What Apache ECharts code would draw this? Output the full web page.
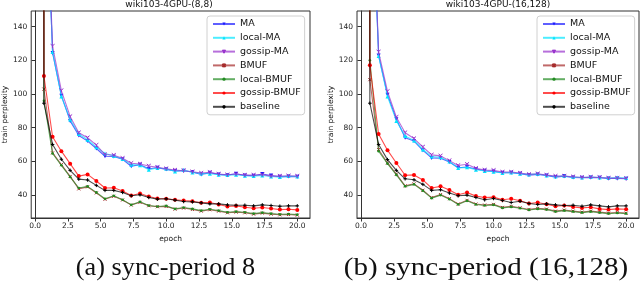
<!DOCTYPE html>
<html>
<head>
<meta charset="utf-8">
<script src="https://cdn.jsdelivr.net/npm/echarts@6/dist/echarts.min.js"></script>
<style>html,body{margin:0;padding:0;background:#fff}#c{width:640px;height:288px}</style>
</head>
<body>
<div id="c"></div>
<script>
const epochs = [0.6, 0.67, 1.33, 2.0, 2.67, 3.33, 4.0, 4.67, 5.33, 6.0, 6.67, 7.33, 8.0, 8.67, 9.33, 10.0, 10.67, 11.33, 12.0, 12.67, 13.33, 14.0, 14.67, 15.33, 16.0, 16.67, 17.33, 18.0, 18.67, 19.33, 20.0];
const seriesNames = ['MA', 'local-MA', 'gossip-MA', 'BMUF', 'local-BMUF', 'gossip-BMUF', 'baseline'];
const xTicks = [0, 2.5, 5, 7.5, 10, 12.5, 15, 17.5, 20];
const yTicks = [40, 60, 80, 100, 120, 140];
const titles = ['wiki103-4GPU-(8,8)', 'wiki103-4GPU-(16,128)'];
const captions = ['(a) sync-period 8', '(b) sync-period (16,128)'];

// chart (a)
const a_MA        = [null, 258, 124.4, 99.0, 84.0, 75.3, 72.0, 67.6, 63.0, 62.8, 61.2, 57.0, 58.0, 55.6, 56.2, 55.2, 54.2, 54.4, 53.6, 52.2, 53.2, 52.2, 51.8, 52.6, 51.6, 51.4, 52.4, 51.6, 50.8, 51.0, 50.8];
const a_localMA   = [null, 256, 125.0, 98.5, 84.8, 76.2, 72.8, 68.4, 64.6, 63.2, 61.4, 58.0, 57.6, 55.0, 56.0, 55.6, 54.0, 54.8, 53.4, 52.8, 52.6, 52.0, 51.8, 52.0, 51.4, 51.2, 51.6, 51.0, 50.6, 51.2, 51.0];
const a_gossipMA  = [null, 262, 128.4, 102.0, 86.6, 77.0, 74.0, 69.6, 64.0, 63.6, 61.8, 58.8, 58.4, 57.2, 56.4, 55.6, 54.8, 54.4, 53.8, 53.0, 53.4, 52.4, 52.0, 52.4, 51.8, 51.8, 52.0, 51.2, 51.2, 51.4, 51.2];
const a_BMUF      = [1500, 102.9, 65.0, 58.0, 51.0, 43.6, 44.8, 41.2, 37.4, 39.2, 37.0, 34.0, 35.6, 33.6, 33.0, 33.2, 31.6, 32.2, 31.4, 30.4, 31.2, 30.4, 29.4, 29.8, 29.4, 28.6, 29.2, 28.6, 28.2, 28.4, 28.0];
const a_localBMUF = [1500, 96.0, 64.6, 57.6, 50.7, 44.1, 45.1, 41.5, 37.7, 39.5, 37.1, 34.1, 35.9, 33.7, 33.1, 33.5, 31.7, 32.5, 31.7, 30.7, 31.5, 30.7, 29.7, 30.1, 29.7, 28.9, 29.5, 28.9, 28.5, 28.7, 28.3];
const a_gossipBMUF= [1500, 110.7, 74.6, 66.0, 58.6, 51.2, 52.2, 48.3, 44.1, 44.3, 42.3, 39.7, 40.9, 39.1, 37.9, 37.7, 37.1, 36.7, 36.3, 35.3, 35.5, 34.3, 33.1, 33.5, 32.7, 32.1, 32.5, 31.9, 31.3, 31.5, 31.1];
const a_baseline  = [1500, 94.5, 70.0, 61.2, 54.6, 49.4, 48.9, 45.7, 42.7, 42.7, 41.5, 39.5, 40.1, 38.5, 37.5, 37.7, 36.9, 36.1, 35.9, 35.3, 34.7, 34.7, 34.1, 33.9, 33.9, 33.5, 34.1, 33.7, 33.3, 33.5, 33.5];

// chart (b)
const b_MA        = [null, 258, 122.8, 99.5, 85.0, 74.0, 72.0, 66.5, 62.0, 61.8, 59.6, 56.2, 56.6, 55.4, 54.4, 54.0, 53.2, 53.2, 52.6, 51.8, 52.2, 51.6, 50.6, 51.2, 50.4, 50.2, 50.4, 50.2, 49.8, 49.8, 49.6];
const b_localMA   = [null, 256, 122.5, 98.5, 84.0, 75.0, 72.4, 67.0, 62.8, 62.4, 59.8, 56.0, 56.4, 55.0, 54.2, 53.8, 53.0, 53.4, 52.6, 52.2, 52.4, 51.6, 51.0, 51.2, 50.6, 50.4, 50.6, 50.4, 50.0, 50.4, 50.0];
const b_gossipMA  = [null, 262, 125.0, 101.5, 86.2, 77.0, 73.5, 68.5, 63.8, 63.2, 60.4, 57.5, 58.2, 55.8, 54.8, 54.6, 53.6, 53.6, 53.0, 52.2, 52.6, 51.8, 51.2, 51.2, 50.8, 50.4, 50.6, 50.4, 50.0, 50.0, 49.8];
const b_BMUF      = [1500, 108.5, 67.0, 59.0, 52.4, 45.4, 46.6, 42.8, 38.4, 40.2, 37.8, 34.6, 36.8, 34.6, 34.0, 34.4, 32.6, 33.2, 32.4, 31.4, 32.0, 31.6, 30.4, 31.0, 30.4, 29.8, 30.4, 29.8, 29.2, 29.6, 29.2];
const b_localBMUF = [1500, 120.0, 66.0, 58.6, 51.9, 45.1, 46.3, 42.5, 38.1, 39.9, 37.5, 34.3, 36.5, 34.3, 33.7, 34.1, 32.3, 32.9, 32.1, 31.1, 31.7, 31.3, 30.1, 30.7, 30.1, 29.5, 30.1, 29.5, 28.9, 29.3, 28.9];
const b_gossipBMUF= [1500, 117.0, 76.2, 66.6, 59.0, 51.7, 51.9, 48.9, 44.1, 45.1, 42.9, 40.1, 41.5, 39.3, 38.5, 38.7, 37.1, 37.7, 36.5, 34.9, 35.5, 34.5, 33.3, 33.7, 32.9, 32.3, 32.7, 31.7, 31.3, 31.7, 31.5];
const b_baseline  = [1500, 94.5, 70.0, 61.0, 54.6, 49.6, 49.0, 46.3, 42.7, 43.1, 41.1, 39.5, 39.9, 38.5, 37.1, 37.9, 36.7, 35.5, 36.3, 34.9, 34.3, 34.7, 34.1, 33.7, 33.9, 33.3, 34.1, 33.5, 32.9, 33.5, 33.5];

const dataA = [a_MA, a_localMA, a_gossipMA, a_BMUF, a_localBMUF, a_gossipBMUF, a_baseline];
const dataB = [b_MA, b_localMA, b_gossipMA, b_BMUF, b_localBMUF, b_gossipBMUF, b_baseline];

const styles = [
  {color: '#1a1aff', symbol: 'triangle', rotate: 180, size: 4, stroke: false},
  {color: '#00e5ff', symbol: 'triangle', rotate: 0, size: 4, stroke: false},
  {color: '#9932cc', symbol: 'path://M5,5L5,10M5,5L0,2M5,5L10,2', rotate: 0, size: 4, stroke: true},
  {color: '#a52a2a', symbol: 'path://M0,0L10,10M10,0L0,10', rotate: 0, size: 3, stroke: true},
  {color: '#228b22', symbol: 'circle', rotate: 0, size: 2.6, stroke: false},
  {color: '#ff0000', symbol: 'circle', rotate: 0, size: 4, stroke: false},
  {color: '#000000', symbol: 'path://M5,0L5,10M0,5L10,5', rotate: 0, size: 3.5, stroke: true}
];

const FONT = 'DejaVu Sans';
const grids = [
  {left: 28, top: 11, width: 282, height: 207},
  {left: 357, top: 11, width: 282, height: 207}
];

function makeX(i) {
  return {
    type: 'value', gridIndex: i, min: -0.3, max: 20.97,
    name: 'epoch', nameLocation: 'middle', nameGap: 17,
    nameTextStyle: {fontFamily: FONT, fontSize: 7.5, color: '#111'},
    axisLine: {show: true, lineStyle: {color: '#333', width: 1}},
    axisTick: {show: true, length: 3.5, customValues: xTicks, lineStyle: {color: '#333'}},
    axisLabel: {customValues: xTicks, margin: 4, fontFamily: FONT, fontSize: 7.5, color: '#222',
      formatter: v => v.toFixed(1)},
    splitLine: {show: false}
  };
}
function makeY(i) {
  return {
    type: 'value', gridIndex: i, min: 26.3, max: 149.3,
    name: 'train perplexity', nameLocation: 'middle', nameGap: 18,
    nameTextStyle: {fontFamily: FONT, fontSize: 7.5, color: '#111'},
    axisLine: {show: true, lineStyle: {color: '#333', width: 1}},
    axisTick: {show: true, length: 3.5, customValues: yTicks, lineStyle: {color: '#333'}},
    axisLabel: {customValues: yTicks, margin: 4, fontFamily: FONT, fontSize: 7.5, color: '#222'},
    splitLine: {show: false}
  };
}

const series = [];
[dataA, dataB].forEach((group, gi) => {
  group.forEach((vals, si) => {
    const st = styles[si];
    series.push({
      type: 'line', name: seriesNames[si], xAxisIndex: gi, yAxisIndex: gi,
      data: epochs.map((e, k) => [e, vals[k]]),
      symbol: st.symbol, symbolSize: st.size, symbolRotate: st.rotate,
      showSymbol: true, clip: true, connectNulls: false,
      lineStyle: {color: st.color, width: 1.1, opacity: 0.7},
      itemStyle: st.stroke ? {color: st.color, borderColor: st.color, borderWidth: 1} : {color: st.color},
      emphasis: {disabled: true}, z: 2 + si
    });
  });
});

function makeLegend(left) {
  return {
    left: left, top: 16, orient: 'vertical', data: seriesNames,
    itemWidth: 22, itemHeight: 4, itemGap: 3.8,
    padding: [3, 4, 3, 5],
    backgroundColor: 'rgba(255,255,255,0.85)', borderColor: '#d0d0d0', borderWidth: 1, borderRadius: 3,
    textStyle: {fontFamily: FONT, fontSize: 9.5, color: '#111', lineHeight: 10},
    selectedMode: false
  };
}

function caption(text, x, sx) {
  return {type: 'text', x: x, y: 268, scaleX: sx, scaleY: 1,
    style: {text: text, x: 0, y: 0, align: 'center', verticalAlign: 'middle', textAlign: 'center', textVerticalAlign: 'middle',
      fontFamily: 'Liberation Serif', fontSize: 25, fill: '#111'}};
}

const chart = echarts.init(document.getElementById('c'), null, {renderer: 'canvas'});
chart.setOption({
  animation: false,
  backgroundColor: '#fff',
  grid: grids.map(g => Object.assign({show: true, borderColor: '#333', borderWidth: 1, backgroundColor: 'transparent'}, g)),
  xAxis: [makeX(0), makeX(1)],
  yAxis: [makeY(0), makeY(1)],
  legend: [makeLegend(207), makeLegend(537)],
  series: series,
  graphic: [
    {type: 'text', style: {text: titles[0], x: 169, y: 5, align: 'center', verticalAlign: 'middle', textAlign: 'center', textVerticalAlign: 'middle', fontFamily: FONT, fontSize: 9, fill: '#111'}},
    {type: 'text', style: {text: titles[1], x: 498, y: 5, align: 'center', verticalAlign: 'middle', textAlign: 'center', textVerticalAlign: 'middle', fontFamily: FONT, fontSize: 9, fill: '#111'}},
    caption(captions[0], 165.5, 1.05),
    caption(captions[1], 486, 1.16)
  ]
});
</script>
</body>
</html>
